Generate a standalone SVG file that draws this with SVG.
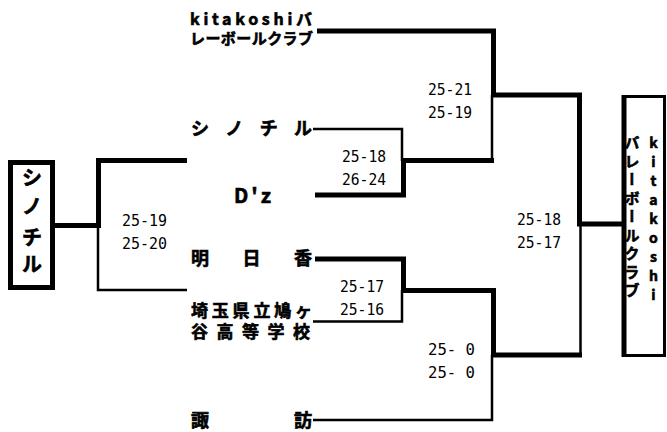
<svg xmlns="http://www.w3.org/2000/svg" width="667" height="432" viewBox="0 0 667 432">
<style>
.n{font-family:"Noto Sans CJK JP","Noto Sans",sans-serif;font-weight:bold;fill:#000;stroke:#000;stroke-width:0.6}
.s{font-family:"DejaVu Sans Mono","Liberation Mono",monospace;font-size:16px;fill:#000}
.k{stroke:#000;stroke-width:5;fill:none;stroke-linecap:butt;stroke-linejoin:miter}
.t{stroke:#000;stroke-width:2.5;fill:none}
</style>
<rect width="667" height="432" fill="#fff"/>
<g id="connectors">
<path class="t" d="M313 129 H402 V161"/>
<path class="t" d="M492 95 V161"/>
<path class="t" d="M313 321.5 H402 V290"/>
<path class="t" d="M313 420 H492 V355"/>
<path class="t" d="M580.5 224 V357"/>
<path class="t" d="M98 226 V290 H187"/>
<path class="k" d="M317 31 H493.5 V95 H579.5 V224 H622"/>
<path class="k" d="M315 195 H403.5 V160.5 H494"/>
<path class="k" d="M315 259 H403.5 V290.5 H493.5 V355 H582"/>
<path class="k" d="M55 225.5 H98.5 V160.5 H187"/>
</g>
<g id="team-kitakoshi">
<text class="n" x="190" y="25" font-size="16" textLength="122" lengthAdjust="spacing">kitakoshiバ</text>
<text class="n" x="190" y="44" font-size="15" textLength="123" lengthAdjust="spacing">レーボールクラブ</text>
</g>
<g id="team-shinochiru">
<text class="n" x="191" y="135" font-size="18" textLength="121" lengthAdjust="spacing">シノチル</text>
</g>
<g id="team-dz">
<text class="n" x="234" y="203" font-size="20" textLength="37" lengthAdjust="spacing">D'z</text>
</g>
<g id="team-asuka">
<text class="n" x="191" y="265" font-size="18" textLength="121" lengthAdjust="spacing">明日香</text>
</g>
<g id="team-hatogaya">
<text class="n" x="191" y="317" font-size="17" textLength="121" lengthAdjust="spacing">埼玉県立鳩ヶ</text>
<text class="n" x="191" y="338" font-size="17" textLength="119" lengthAdjust="spacing">谷高等学校</text>
</g>
<g id="team-suwa">
<text class="n" x="191" y="427" font-size="18" textLength="121" lengthAdjust="spacing">諏訪</text>
</g>
<g id="scores">
<text class="s" x="428" y="95" textLength="44" lengthAdjust="spacingAndGlyphs">25-21</text>
<text class="s" x="428" y="118" textLength="44" lengthAdjust="spacingAndGlyphs">25-19</text>
<text class="s" x="342" y="162" textLength="44" lengthAdjust="spacingAndGlyphs">25-18</text>
<text class="s" x="342" y="185" textLength="44" lengthAdjust="spacingAndGlyphs">26-24</text>
<text class="s" x="340" y="292" textLength="44" lengthAdjust="spacingAndGlyphs">25-17</text>
<text class="s" x="340" y="315" textLength="44" lengthAdjust="spacingAndGlyphs">25-16</text>
<text class="s" x="122" y="226" textLength="45" lengthAdjust="spacingAndGlyphs">25-19</text>
<text class="s" x="122" y="249" textLength="45" lengthAdjust="spacingAndGlyphs">25-20</text>
<text class="s" x="517" y="225" textLength="44" lengthAdjust="spacingAndGlyphs">25-18</text>
<text class="s" x="517" y="248" textLength="44" lengthAdjust="spacingAndGlyphs">25-17</text>
<text class="s" x="428" y="355" textLength="47" lengthAdjust="spacingAndGlyphs">25- 0</text>
<text class="s" x="428" y="378" textLength="47" lengthAdjust="spacingAndGlyphs">25- 0</text>
</g>
<g id="champion">
<rect x="623.5" y="96.5" width="41" height="259" fill="#fff" stroke="#000" stroke-width="3"/>
<line x1="624" y1="95" x2="624" y2="357" stroke="#000" stroke-width="5"/>
<text class="n" x="632" y="135" font-size="15" letter-spacing="3.5" style="writing-mode:vertical-rl;text-orientation:upright">バレーボールクラブ</text>
<text class="n" x="653.5 653.5 653.5 653.5 653.5 653.5 653.5 653.5 653.5" y="148 167 186 205 224 243 262 281 300" font-size="14" text-anchor="middle">kitakoshi</text>
</g>
<g id="third-place">
<rect x="10.5" y="162.5" width="42" height="125" fill="#fff" stroke="#000" stroke-width="5"/>
<text class="n" x="32 32 32 32" y="185 214 245 272" font-size="20" text-anchor="middle">シノチル</text>
</g>
</svg>
